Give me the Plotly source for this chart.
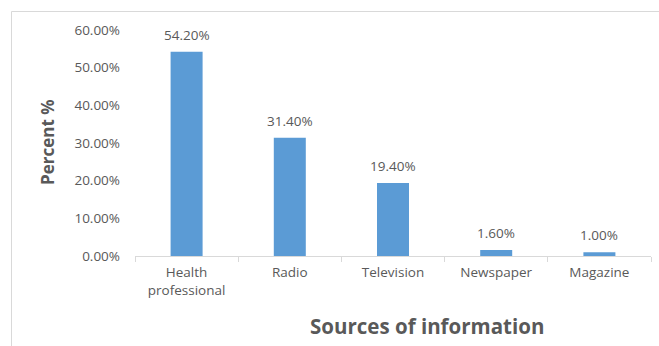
import plotly.graph_objects as go

categories = ["Health<br>professional", "Radio", "Television", "Newspaper", "Magazine"]
values = [0.542, 0.314, 0.194, 0.016, 0.010]
y_ticks = [0, 0.1, 0.2, 0.3, 0.4, 0.5, 0.6]

FONT = "'Open Sans', sans-serif"
GRAY = "#595959"
FS = 13.5

fig = go.Figure(go.Bar(
    x=categories, y=values,
    marker=dict(color="#5B9BD5", line=dict(width=0)),
    hoverinfo="skip",
))

W, H = 659, 346
L, R, T, B = 135, 8, 30, 90
pw, ph = W - L - R, H - T - B

def px(x):
    return (x - L) / pw

def py(y):
    return (H - B - y) / ph

annotations = [
    dict(x=c, y=v, text=f"{v * 100:.2f}%", xref="x", yref="y",
         showarrow=False, yanchor="bottom", yshift=6,
         font=dict(family=FONT, size=FS, color=GRAY))
    for c, v in zip(categories, values)
]
annotations += [
    dict(text="<b>Percent %</b>", textangle=-90, x=px(47), y=py(142),
         xref="paper", yref="paper", showarrow=False,
         font=dict(family=FONT, size=17, color=GRAY),
         xanchor="center", yanchor="middle"),
    dict(text="<b>Sources of information</b>", x=px(427), y=py(326),
         xref="paper", yref="paper", showarrow=False,
         font=dict(family=FONT, size=20.5, color=GRAY),
         xanchor="center", yanchor="middle"),
]

fig.update_layout(
    width=W, height=H,
    margin=dict(l=L, r=R, t=T, b=B),
    paper_bgcolor="white", plot_bgcolor="white",
    bargap=0.69,
    showlegend=False,
    font=dict(family=FONT, color=GRAY, size=FS),
    xaxis=dict(
        showgrid=False, showline=True, linecolor="#d9d9d9", linewidth=1,
        ticks="outside", tickson="boundaries", ticklen=5, tickcolor="#d9d9d9",
        tickfont=dict(family=FONT, size=FS, color=GRAY),
        ticklabelstandoff=4,
    ),
    yaxis=dict(
        range=[0, 0.6], tickvals=y_ticks, tickformat=".2%",
        showgrid=False, showline=False, zeroline=False,
        tickfont=dict(family=FONT, size=FS, color=GRAY),
        ticklabelstandoff=14,
    ),
    annotations=annotations,
    shapes=[
        dict(type="rect", xref="paper", yref="paper",
             x0=px(11.5), y0=py(400), x1=px(720), y1=py(11.5),
             line=dict(color="#d9d9d9", width=1), fillcolor="rgba(0,0,0,0)",
             layer="below"),
    ],
)

fig.write_html("out.html", config={"displayModeBar": False},
               post_script="document.body.style.margin='0';")
